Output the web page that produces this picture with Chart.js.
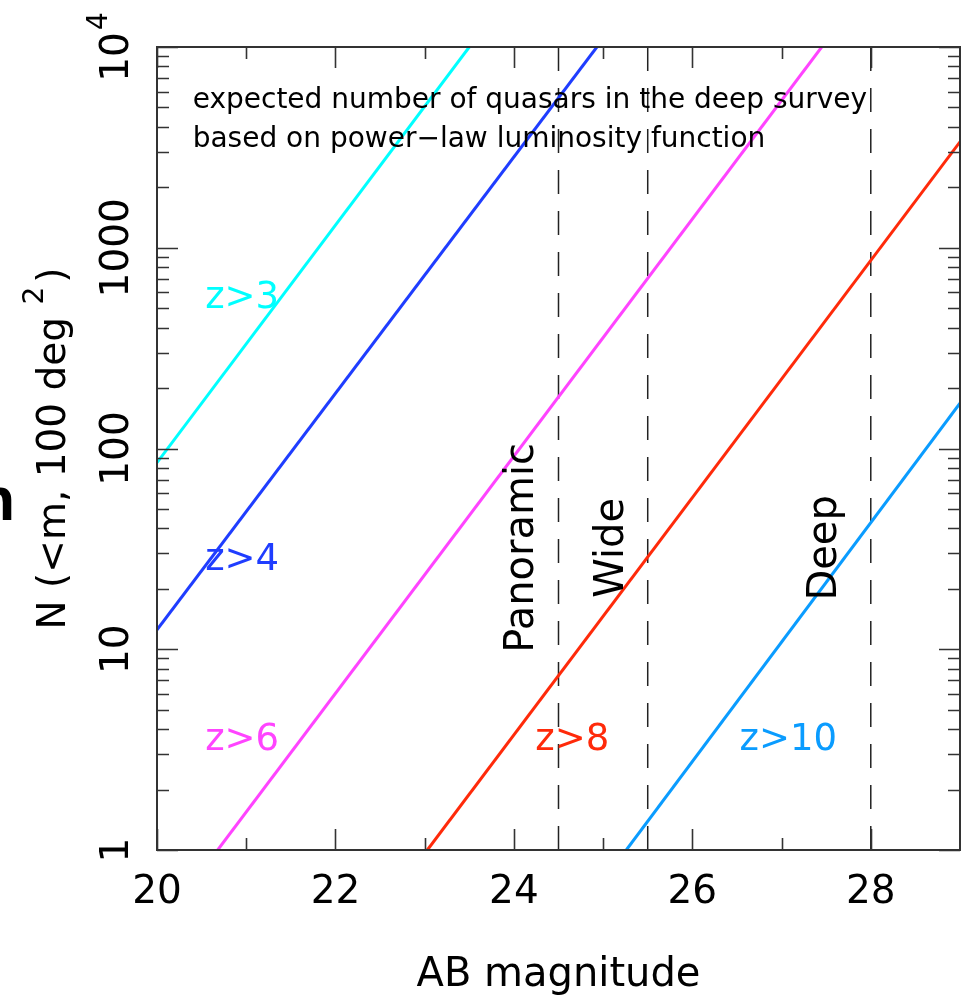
<!DOCTYPE html>
<html>
<head>
<meta charset="utf-8">
<script src="https://cdn.jsdelivr.net/npm/chart.js@4/dist/chart.umd.min.js"></script>
<style>
  html, body { margin: 0; padding: 0; background: #fff; }
  canvas { display: block; }
</style>
</head>
<body>
<canvas id="grafico" width="961" height="997"></canvas>
<script>
// Datos
const seriesNames = ["z>3", "z>4", "z>6", "z>8", "z>10"];
const seriesColors = ["#00ffff", "#1f3dff", "#ff44ff", "#ff2a0a", "#0a9cff"];
const magnitudes = [
    [20, 23.5],
    [20, 24.93],
    [20.68, 27.45],
    [23.03, 29],
    [25.26, 29]
];
const counts = [
    [85, 10000],
    [12.5, 10000],
    [1, 10000],
    [1, 3370],
    [1, 168]
];
// posicion de las etiquetas z>..
const labelMag = [20.54, 20.54, 20.54, 24.24, 26.53];
const labelN = [501, 24.8, 3.15, 3.15, 3.15];

// limites de los relevamientos
const surveyNames = ["Panoramic", "Wide", "Deep"];
const surveyMag = [24.5, 25.5, 28];
const surveyLabelMag = [24.21, 25.22, 27.61];
const surveyLabelN = 32;

const xTicks = [20, 22, 24, 26, 28];
const xMinor = [21, 23, 25, 27, 29];
const yTicks = [1, 10, 100, 1000, 10000];
const yTickLabels = ["1", "10", "100", "1000", "10|4"];

const notaLineas = [
    "expected number of quasars in the deep survey",
    "based on power\u2212law luminosity function"
];
const notaMag = 20.4;
const notaN = [4966, 3177];

const FONT = "'DejaVu Sans', sans-serif";

const datasets = [];
seriesNames.forEach((name, i) => {
    datasets.push({
        label: name,
        data: magnitudes[i].map((m, j) => ({ x: m, y: counts[i][j] })),
        borderColor: seriesColors[i],
        borderWidth: 3,
        pointRadius: 0,
        fill: false
    });
});
surveyMag.forEach((m, i) => {
    datasets.push({
        label: surveyNames[i],
        data: [{ x: m, y: 10000 }, { x: m, y: 1 }],
        borderColor: "#222",
        borderWidth: 1.5,
        borderDash: [24, 17],
        pointRadius: 0,
        fill: false
    });
});

const decoraciones = {
    id: "decoraciones",
    beforeDraw(chart) {
        const ctx = chart.ctx;
        ctx.save();
        ctx.fillStyle = "#fff";
        ctx.fillRect(0, 0, chart.width, chart.height);
        ctx.restore();
    },
    afterDraw(chart) {
        const ctx = chart.ctx;
        const a = chart.chartArea;
        const xs = chart.scales.x;
        const ys = chart.scales.y;
        ctx.save();

        // marco
        ctx.strokeStyle = "#333";
        ctx.lineWidth = 2;
        ctx.strokeRect(a.left, a.top, a.right - a.left, a.bottom - a.top);

        // marcas del eje x (abajo y arriba)
        ctx.lineWidth = 1.6;
        ctx.beginPath();
        xTicks.concat(xMinor).forEach(v => {
            const px = Math.round(xs.getPixelForValue(v)) + 0.5;
            const len = xTicks.includes(v) ? 21 : 12;
            ctx.moveTo(px, a.bottom); ctx.lineTo(px, a.bottom - len);
            ctx.moveTo(px, a.top); ctx.lineTo(px, a.top + len);
        });
        // marcas del eje y (izquierda y derecha)
        yTicks.forEach((d, k) => {
            const limite = k < yTicks.length - 1 ? 9 : 1;
            for (let f = 1; f <= limite; f++) {
                const py = Math.round(ys.getPixelForValue(d * f)) + 0.5;
                const len = f === 1 ? 21 : 12;
                ctx.moveTo(a.left, py); ctx.lineTo(a.left + len, py);
                ctx.moveTo(a.right, py); ctx.lineTo(a.right - len, py);
            }
        });
        ctx.stroke();

        ctx.fillStyle = "#000";

        // etiquetas eje x
        ctx.font = "39px " + FONT;
        ctx.textAlign = "center";
        ctx.textBaseline = "alphabetic";
        xTicks.forEach(v => {
            ctx.fillText(String(v), xs.getPixelForValue(v), 903);
        });

        // titulo eje x
        ctx.font = "40px " + FONT;
        ctx.fillText("AB magnitude", (a.left + a.right) / 2, 986);

        // etiquetas eje y (rotadas)
        yTicks.forEach((v, i) => {
            const partes = yTickLabels[i].split("|");
            const py = ys.getPixelForValue(v);
            ctx.save();
            ctx.translate(128, py);
            ctx.rotate(-Math.PI / 2);
            ctx.textAlign = "left";
            ctx.font = "39px " + FONT;
            const w1 = ctx.measureText(partes[0]).width;
            let w2 = 0;
            if (partes[1]) {
                ctx.font = "28px " + FONT;
                w2 = ctx.measureText(partes[1]).width + 2;
            }
            const x0 = -(w1 + w2) / 2;
            ctx.font = "39px " + FONT;
            ctx.fillText(partes[0], x0, 0);
            if (partes[1]) {
                ctx.font = "28px " + FONT;
                ctx.fillText(partes[1], x0 + w1 + 2, -21);
            }
            ctx.restore();
        });

        // titulo eje y
        ctx.save();
        ctx.translate(65, (a.top + a.bottom) / 2);
        ctx.rotate(-Math.PI / 2);
        ctx.textAlign = "left";
        const t1 = "N (<m, 100 deg ";
        const t2 = "2";
        const t3 = ")";
        ctx.font = "39px " + FONT;
        const w1 = ctx.measureText(t1).width;
        const w3 = ctx.measureText(t3).width;
        ctx.font = "28px " + FONT;
        const w2 = ctx.measureText(t2).width + 4;
        const x0 = -(w1 + w2 + w3) / 2;
        ctx.font = "39px " + FONT;
        ctx.fillText(t1, x0, 0);
        ctx.font = "28px " + FONT;
        ctx.fillText(t2, x0 + w1, -22);
        ctx.font = "39px " + FONT;
        ctx.fillText(t3, x0 + w1 + w2, 0);
        ctx.restore();

        // nota superior
        ctx.font = "28px " + FONT;
        ctx.textAlign = "left";
        notaLineas.forEach((t, i) => {
            ctx.fillText(t, xs.getPixelForValue(notaMag), ys.getPixelForValue(notaN[i]));
        });

        // nombres de los relevamientos
        ctx.font = "40px " + FONT;
        surveyNames.forEach((t, i) => {
            ctx.save();
            ctx.translate(xs.getPixelForValue(surveyLabelMag[i]), ys.getPixelForValue(surveyLabelN));
            ctx.rotate(-Math.PI / 2);
            ctx.textAlign = "center";
            ctx.fillText(t, 0, 0);
            ctx.restore();
        });

        // etiquetas z>..
        ctx.font = "37px " + FONT;
        ctx.textAlign = "left";
        seriesNames.forEach((t, i) => {
            ctx.fillStyle = seriesColors[i];
            ctx.fillText(t, xs.getPixelForValue(labelMag[i]), ys.getPixelForValue(labelN[i]));
        });

        // letra cortada en el borde izquierdo
        ctx.fillStyle = "#000";
        ctx.font = "bold 62px 'Liberation Sans', sans-serif";
        ctx.textAlign = "right";
        ctx.fillText("n", 15, 520);

        ctx.restore();
    }
};

document.addEventListener("DOMContentLoaded", () => {
    const canvas = document.getElementById("grafico");
    new Chart(canvas.getContext("2d"), {
        type: "line",
        data: { datasets: datasets },
        options: {
            responsive: false,
            animation: false,
            devicePixelRatio: 1,
            layout: { padding: { left: 157, top: 47, right: 1, bottom: 147 } },
            plugins: {
                legend: { display: false },
                tooltip: { enabled: false }
            },
            scales: {
                x: { type: "linear", min: 20, max: 29, display: false },
                y: { type: "logarithmic", min: 1, max: 10000, display: false }
            }
        },
        plugins: [decoraciones]
    });
});
</script>
</body>
</html>
